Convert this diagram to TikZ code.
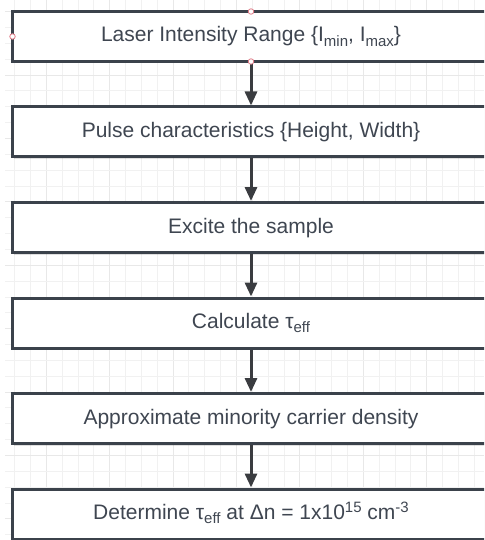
\documentclass[tikz,border=0pt]{standalone}
\usepackage{fontspec}
\setmainfont{Liberation Sans}
\usetikzlibrary{arrows.meta,shadows}
\definecolor{boxline}{HTML}{3B424B}
\definecolor{txt}{HTML}{3F4651}
\definecolor{arr}{HTML}{3A3C40}
\definecolor{gridminor}{HTML}{F1F1F1}
\definecolor{gridmajor}{HTML}{E8E8E8}
\definecolor{handle}{HTML}{E07A86}
\newcommand{\lowsub}[1]{\raisebox{-0.2em}{\fontsize{15}{15}\selectfont #1}}
\newcommand{\highsup}[1]{\raisebox{0.33em}{\fontsize{15}{15}\selectfont #1}}
\tikzset{
  stepbox/.style={draw=boxline, line width=3pt, fill=white,
    minimum width=477pt, minimum height=50pt, inner sep=0pt,
    text height=15pt, text depth=4pt, text=txt,
    font=\fontsize{21}{25}\selectfont,
    drop shadow={shadow xshift=1.2pt, shadow yshift=-2pt, opacity=0.12, fill=black}},
  flow/.style={draw=arr, line width=3pt, -{Triangle[width=12pt,length=14pt]}},
  handledot/.style={circle, draw=handle, fill=white, line width=0.8pt,
    minimum size=5.5pt, inner sep=0pt}
}
\begin{document}
\begin{tikzpicture}[x=1pt,y=-1pt]
\useasboundingbox (0,0) rectangle (484,540);
\clip (0,0) rectangle (484,540);
\fill[white] (0,0) rectangle (484,540);
% background grid
\foreach \i in {0,...,30} {
  \pgfmathsetmacro{\gx}{14.5+15.85*\i}
  \pgfmathtruncatemacro{\m}{mod(\i,4)}
  \ifnum\m=2
    \draw[gridmajor, line width=0.9pt] (\gx,0) -- (\gx,540);
  \else
    \draw[gridminor, line width=0.8pt] (\gx,0) -- (\gx,540);
  \fi
}
\foreach \j in {-1,...,34} {
  \pgfmathsetmacro{\gy}{11.6+15.85*\j}
  \pgfmathtruncatemacro{\m}{mod(\j+4,4)}
  \ifnum\m=0
    \draw[gridmajor, line width=0.9pt] (5,\gy) -- (484,\gy);
  \else
    \draw[gridminor, line width=0.8pt] (5,\gy) -- (484,\gy);
  \fi
}
% boxes
\node[stepbox] (b1) at (251,36.5) {Laser Intensity Range \{I\lowsub{min}, I\lowsub{max}\}};
\node[stepbox] (b2) at (251,132) {Pulse characteristics \{Height, Width\}};
\node[stepbox] (b3) at (251,227.5) {Excite the sample};
\node[stepbox] (b4) at (251,323) {Calculate τ\lowsub{eff}};
\node[stepbox] (b5) at (251,418.5) {Approximate minority carrier density};
\node[stepbox] (b6) at (251,514) {Determine τ\lowsub{eff} at Δn = 1x10\highsup{15} cm\highsup{-3}};
% connectors
\draw[flow] (b1.south) -- (b2.north);
\draw[flow] (b2.south) -- (b3.north);
\draw[flow] (b3.south) -- (b4.north);
\draw[flow] (b4.south) -- (b5.north);
\draw[flow] (b5.south) -- (b6.north);
% selection handles
\node[handledot] (h1) at ([yshift=-1.5pt]b1.north) {};
\node[handledot] (h2) at ([xshift=1.5pt]b1.west) {};
\node[handledot] (h3) at ([yshift=1.5pt]b1.south) {};
\end{tikzpicture}
\end{document}
